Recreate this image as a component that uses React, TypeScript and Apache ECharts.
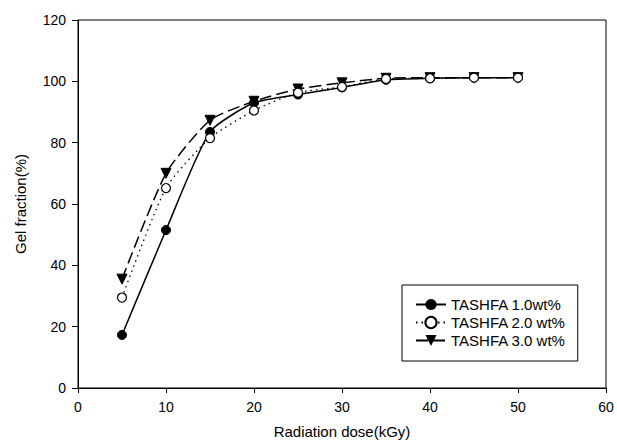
import React, { useEffect, useRef } from "react";
import * as echarts from "echarts";

const doses = [5, 10, 15, 20, 25, 30, 35, 40, 45, 50];
const tashfa10 = [17.3, 51.5, 83.5, 93, 95.7, 98, 100.5, 101, 101.2, 101.2];
const tashfa20 = [29.5, 65.2, 81.5, 90.5, 96.3, 98.2, 100.8, 101, 101.2, 101.2];
const tashfa30 = [35.5, 70, 87.3, 93.5, 97.5, 99.5, 101, 101.2, 101.2, 101.2];
const seriesNames = ["TASHFA 1.0wt%", "TASHFA 2.0 wt%", "TASHFA 3.0 wt%"];

const FONT = "'Liberation Sans', Arial, sans-serif";

export default function App() {
  const ref = useRef<HTMLDivElement>(null);
  useEffect(() => {
    document.body.style.margin = "0";
    if (!ref.current) return;
    const chart = echarts.init(ref.current, undefined, { renderer: "svg" });
    const pair = (vals: number[]) => doses.map((d, i) => [d, vals[i]]);
    chart.setOption({
      animation: false,
      backgroundColor: "#fff",
      textStyle: { fontFamily: FONT, color: "#000" },
      grid: {
        left: 78,
        top: 20,
        width: 528,
        height: 368,
        show: true,
        borderColor: "#000",
        borderWidth: 1,
        backgroundColor: "transparent",
      },
      legend: {
        orient: "vertical",
        left: 402,
        top: 285,
        padding: [12, 12, 13, 13],
        itemGap: 3,
        itemWidth: 30,
        itemHeight: 14,
        itemTextGap: 3,
        borderColor: "#000",
        borderWidth: 1,
        backgroundColor: "#fff",
        textStyle: { fontFamily: FONT, fontSize: 15, color: "#000" },
        data: seriesNames,
      },
      xAxis: {
        type: "value",
        min: 0,
        max: 60,
        interval: 10,
        name: "Radiation dose(kGy)",
        nameLocation: "middle",
        nameGap: 36,
        nameTextStyle: { fontFamily: FONT, fontSize: 15, color: "#000" },
        axisLine: { show: true, onZero: false, lineStyle: { color: "#000", width: 1 } },
        axisTick: { show: true, inside: false, length: 5, lineStyle: { color: "#000" } },
        axisLabel: { margin: 12, fontFamily: FONT, fontSize: 14, color: "#000" },
        splitLine: { show: false },
      },
      yAxis: {
        type: "value",
        min: 0,
        max: 120,
        interval: 20,
        name: "Gel fraction(%)",
        nameLocation: "middle",
        nameGap: 50,
        nameTextStyle: { fontFamily: FONT, fontSize: 15, color: "#000" },
        axisLine: { show: true, lineStyle: { color: "#000", width: 1 } },
        axisTick: { show: true, inside: false, length: 6, lineStyle: { color: "#000" } },
        axisLabel: { margin: 12, fontFamily: FONT, fontSize: 14, color: "#000" },
        splitLine: { show: false },
      },
      series: [
        {
          name: seriesNames[0],
          type: "line",
          data: pair(tashfa10),
          smooth: 0.2,
          symbol: "circle",
          symbolSize: 9,
          itemStyle: { color: "#000", borderColor: "#000" },
          lineStyle: { color: "#000", width: 1.5, type: "solid" },
          z: 3,
        },
        {
          name: seriesNames[1],
          type: "line",
          data: pair(tashfa20),
          smooth: 0.2,
          symbol: "circle",
          symbolSize: 9,
          itemStyle: { color: "#fff", borderColor: "#000", borderWidth: 1.2 },
          lineStyle: { color: "#000", width: 1.3, type: [1.5, 4] },
          z: 4,
        },
        {
          name: seriesNames[2],
          type: "line",
          data: pair(tashfa30),
          smooth: 0.2,
          symbol: "triangle",
          symbolRotate: 180,
          symbolSize: 10,
          itemStyle: { color: "#000", borderColor: "#000" },
          lineStyle: { color: "#000", width: 1.5, type: [12, 5] },
          z: 2,
        },
      ],
    });
    return () => chart.dispose();
  }, []);
  return <div ref={ref} style={{ width: 617, height: 446 }} />;
}
